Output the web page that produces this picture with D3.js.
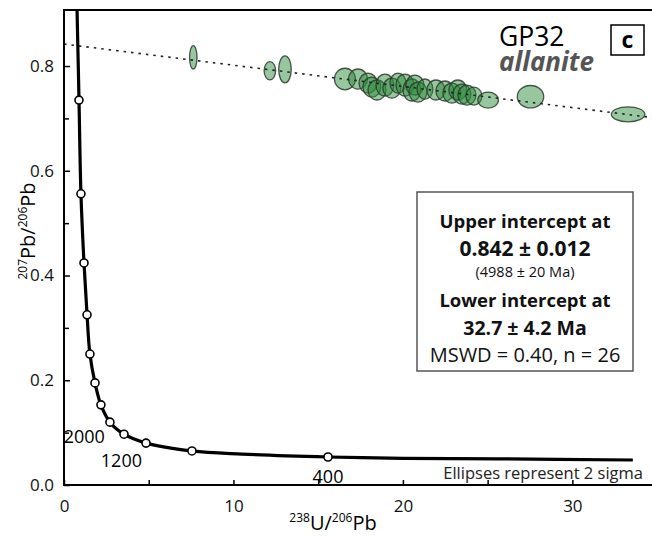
<!DOCTYPE html>
<html>
<script src="https://d3js.org/d3.v7.min.js"></script>
<style>
    body {
        margin: 0;
        background: #fff;
    }

    text {
        font-family: "Open Sans", sans-serif;
    }
</style>

<body></body>
<script>
    const width = 652,
        height = 537;

    // concordia curve (238U/206Pb, 207Pb/206Pb)
    const concX = [0.77, 0.885, 1.0, 1.18, 1.36, 1.53, 1.83, 2.18, 2.71, 3.54, 4.84, 7.55, 10.5, 15.58, 20, 25.7, 33.57];
    const concY = [0.907, 0.735, 0.556, 0.424, 0.325, 0.250, 0.195, 0.153, 0.120, 0.097, 0.080, 0.065, 0.059, 0.0535,
        0.051, 0.050, 0.0477
    ];
    // age markers on the concordia (Ma)
    const markAge = [400, 800, 1200, 1600, 2000, 2400, 2800, 3200, 3600, 4000, 4400, 4800];
    const markX = [15.58, 7.55, 4.84, 3.54, 2.71, 2.18, 1.83, 1.53, 1.36, 1.18, 1.0, 0.885];
    const markY = [0.0535, 0.065, 0.080, 0.097, 0.120, 0.153, 0.195, 0.250, 0.325, 0.424, 0.556, 0.735];
    const markLabels = [400, 1200, 2000];

    // allanite analyses: centres and 2 sigma half-widths
    const ellX = [7.63, 12.15, 13.04, 16.58, 17.35, 17.94, 18.17, 18.47, 18.94, 19.35, 19.71, 20.12, 20.53, 20.71,
        20.89, 21.30, 21.95, 22.48, 22.89, 23.24, 23.48, 23.78, 24.19, 25.03, 27.53, 33.29
    ];
    const ellY = [0.8166, 0.791, 0.7937, 0.7752, 0.7752, 0.7675, 0.7599, 0.7542, 0.7637, 0.7580, 0.7675, 0.7637,
        0.7542, 0.7637, 0.7503, 0.7561, 0.7542, 0.7523, 0.7484, 0.7542, 0.7465, 0.7446, 0.7427, 0.735, 0.7414, 0.7078
    ];
    const ellSx = [0.22, 0.34, 0.37, 0.62, 0.56, 0.53, 0.53, 0.53, 0.53, 0.53, 0.47, 0.53, 0.53, 0.53, 0.53, 0.47,
        0.53, 0.53, 0.53, 0.53, 0.53, 0.53, 0.47, 0.61, 0.78, 0.99
    ];
    const ellSy = [0.0223, 0.0176, 0.0258, 0.0206, 0.0191, 0.0191, 0.0191, 0.0191, 0.021, 0.0191, 0.0191, 0.021,
        0.021, 0.0191, 0.0191, 0.0191, 0.0191, 0.0191, 0.0191, 0.0191, 0.0191, 0.0191, 0.0172, 0.0153, 0.0214, 0.0143
    ];

    // discordia: upper and lower intercepts
    const interX = [0, 196.6];
    const interY = [0.842, 0.0468];

    const xTicks = [0, 5, 10, 15, 20, 25, 30];
    const xLabels = [0, 10, 20, 30];
    const yTicks = [0, 0.1, 0.2, 0.3, 0.4, 0.5, 0.6, 0.7, 0.8];
    const yLabels = [0, 0.2, 0.4, 0.6, 0.8];

    const boxLines = [
        ["Upper intercept at", "bold", 18.5],
        ["0.842 \u00b1 0.012", "bold", 21],
        ["(4988 \u00b1 20 Ma)", "normal", 14.5],
        ["Lower intercept at", "bold", 18.5],
        ["32.7 \u00b1 4.2 Ma", "bold", 19.5],
        ["MSWD = 0.40, n = 26", "normal", 20]
    ];

    const svg = d3.select("body").append("svg").attr("width", width).attr("height", height);

    const x = d3.scaleLinear().domain([0, 34.7]).range([64, 652]);
    const y = d3.scaleLinear().domain([0, 0.907]).range([485, 10]);

    svg.append("clipPath").attr("id", "plot")
        .append("rect").attr("x", 64).attr("y", 10).attr("width", 588).attr("height", 475);

    const plot = svg.append("g").attr("clip-path", "url(#plot)");

    // ellipses
    const ells = ellX.map((v, i) => ({
        x: v,
        y: ellY[i],
        sx: ellSx[i],
        sy: ellSy[i]
    }));
    plot.selectAll(".ell")
        .data(ells)
        .join("ellipse")
        .attr("class", "ell")
        .attr("cx", d => x(d.x))
        .attr("cy", d => y(d.y))
        .attr("rx", d => x(d.x + d.sx) - x(d.x))
        .attr("ry", d => y(d.y) - y(d.y + d.sy))
        .attr("fill", "rgb(40,135,55)")
        .attr("fill-opacity", 0.48)
        .attr("stroke", "#2b3a2e")
        .attr("stroke-opacity", 0.85)
        .attr("stroke-width", 1.3);

    // discordia
    plot.append("line")
        .attr("x1", x(interX[0])).attr("y1", y(interY[0]))
        .attr("x2", x(interX[1])).attr("y2", y(interY[1]))
        .attr("stroke", "#222")
        .attr("stroke-width", 1.6)
        .attr("stroke-dasharray", "2.5,5");

    // concordia
    const line = d3.line()
        .x(d => x(d[0]))
        .y(d => y(d[1]))
        .curve(d3.curveCatmullRom.alpha(0.5));
    plot.append("path")
        .attr("fill", "none")
        .attr("stroke", "black")
        .attr("stroke-width", 3.2)
        .attr("d", line(concX.map((v, i) => [v, concY[i]])));

    plot.selectAll(".mk")
        .data(markX.map((v, i) => ({
            x: v,
            y: markY[i],
            age: markAge[i]
        })))
        .join("circle")
        .attr("class", "mk")
        .attr("cx", d => x(d.x))
        .attr("cy", d => y(d.y))
        .attr("r", 4)
        .attr("fill", "white")
        .attr("stroke", "black")
        .attr("stroke-width", 1.6);

    // age labels
    const ageLab = {
        400: [0, 26, "middle"],
        1200: [-4, 24, "end"],
        2000: [-5, 21, "end"]
    };
    svg.selectAll(".age")
        .data(markLabels)
        .join("text")
        .attr("class", "age")
        .attr("x", a => x(markX[markAge.indexOf(a)]) + ageLab[a][0])
        .attr("y", a => y(markY[markAge.indexOf(a)]) + ageLab[a][1])
        .attr("text-anchor", a => ageLab[a][2])
        .attr("font-size", 18)
        .text(a => a);

    // axes
    svg.append("line").attr("x1", 63).attr("x2", 652).attr("y1", 10).attr("y2", 10)
        .attr("stroke", "black").attr("stroke-width", 2);

    const xAxis = svg.append("g")
        .attr("transform", "translate(0,485)")
        .call(d3.axisBottom(x).tickValues(xTicks).tickSizeInner(-5).tickSizeOuter(0)
            .tickFormat(d => xLabels.includes(d) ? d : ""));
    xAxis.select(".domain").attr("stroke-width", 2).attr("d", "M63,0H652");
    xAxis.selectAll(".tick line").attr("stroke-width", 1.5);
    xAxis.selectAll(".tick text").attr("font-size", 17).attr("dy", "1.4em").attr("fill", "#111");

    const yAxis = svg.append("g")
        .attr("transform", "translate(64,0)")
        .call(d3.axisLeft(y).tickValues(yTicks).tickSizeOuter(0)
            .tickFormat(d => yLabels.some(v => Math.abs(v - d) < 1e-9) ? d3.format(".1f")(d) : ""));
    yAxis.select(".domain").attr("stroke-width", 2).attr("d", "M0,10V486");
    yAxis.selectAll(".tick line")
        .attr("x2", d => yLabels.some(v => Math.abs(v - d) < 1e-9) ? 6 : 5)
        .attr("stroke-width", 1.5);
    yAxis.selectAll(".tick text").attr("font-size", 17).attr("x", -10).attr("fill", "#111");

    // axis titles
    const xt = svg.append("text").attr("x", 333).attr("y", 530).attr("text-anchor", "middle").attr("font-size", 20);
    xt.append("tspan").attr("font-size", 12).attr("dy", -8).text("238");
    xt.append("tspan").attr("dy", 8).text("U/");
    xt.append("tspan").attr("font-size", 12).attr("dy", -8).text("206");
    xt.append("tspan").attr("dy", 8).text("Pb");

    const yt = svg.append("text").attr("transform", "translate(35,231) rotate(-90)")
        .attr("text-anchor", "middle").attr("font-size", 20);
    yt.append("tspan").attr("font-size", 12).attr("dy", -8).text("207");
    yt.append("tspan").attr("dy", 8).text("Pb/");
    yt.append("tspan").attr("font-size", 12).attr("dy", -8).text("206");
    yt.append("tspan").attr("dy", 8).text("Pb");

    svg.append("text").attr("x", 643).attr("y", 479).attr("text-anchor", "end")
        .attr("font-size", 16.5).attr("fill", "#222").text("Ellipses represent 2 sigma");

    // sample title
    svg.append("text").attr("x", 499).attr("y", 46).attr("font-size", 26.5).text("GP32");
    svg.append("text").attr("x", 499).attr("y", 71).attr("font-size", 26)
        .attr("font-weight", "bold").attr("font-style", "italic").attr("fill", "#555").text("allanite");
    svg.append("rect").attr("x", 611).attr("y", 25).attr("width", 33).attr("height", 30)
        .attr("fill", "white").attr("stroke", "black").attr("stroke-width", 1.5);
    svg.append("text").attr("x", 627.5).attr("y", 48).attr("text-anchor", "middle")
        .attr("font-size", 23).attr("font-weight", "bold").attr("font-family", "Liberation Sans").text("c");

    // result box
    svg.append("rect").attr("x", 417).attr("y", 192).attr("width", 216).attr("height", 179)
        .attr("fill", "white").attr("stroke", "#555").attr("stroke-width", 1.5);
    const lineBase = [228, 256, 277, 307, 335, 362];
    svg.selectAll(".res")
        .data(boxLines)
        .join("text")
        .attr("class", "res")
        .attr("x", 525)
        .attr("y", (d, i) => lineBase[i])
        .attr("text-anchor", "middle")
        .attr("font-size", d => d[2])
        .attr("font-weight", d => d[1])
        .attr("fill", "#111")
        .text(d => d[0]);
</script>

</html>
